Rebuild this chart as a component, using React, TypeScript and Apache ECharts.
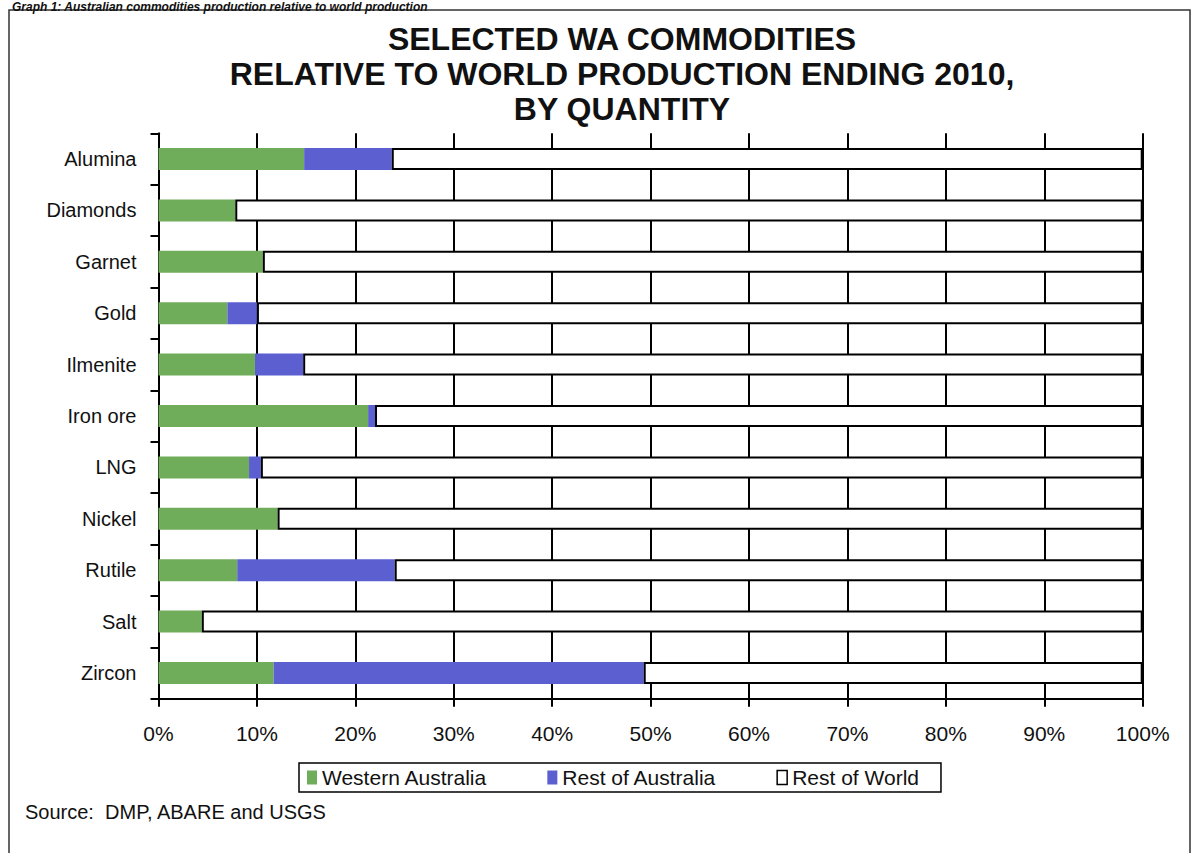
import React, { useEffect, useRef } from "react";
import * as echarts from "echarts";

const categories = ["Alumina", "Diamonds", "Garnet", "Gold", "Ilmenite", "Iron ore", "LNG", "Nickel", "Rutile", "Salt", "Zircon"];
const westernAustralia = [14.8, 7.8, 10.6, 7.0, 9.8, 21.3, 9.2, 12.1, 8.0, 4.4, 11.7];
const restOfAustralia = [8.9, 0, 0, 3.0, 4.9, 0.7, 1.2, 0, 16.0, 0, 37.6];
const restOfWorld = [76.3, 92.2, 89.4, 90.0, 85.3, 78.0, 89.6, 87.9, 76.0, 95.6, 50.7];
const seriesNames = ["Western Australia", "Rest of Australia", "Rest of World"];
const titleLines = ["SELECTED WA COMMODITIES", "RELATIVE TO WORLD PRODUCTION ENDING 2010,", "BY QUANTITY"];
const captionText = "Graph 1: Australian commodities production relative to world production";
const sourceText = "Source:  DMP, ABARE and USGS";

const FONT = "'Liberation Sans', Arial, Helvetica, sans-serif";
const GREEN = "#70ad5a";
const BLUE = "#5b5fcf";

export default function App() {
  const ref = useRef<HTMLDivElement>(null);

  useEffect(() => {
    if (!ref.current) return;
    const chart = echarts.init(ref.current, null, { renderer: "svg" });
    chart.setOption({
      animation: false,
      backgroundColor: "#ffffff",
      title: {
        text: titleLines.join("\n"),
        left: 622,
        top: 21,
        padding: 0,
        textAlign: "center",
        textStyle: {
          fontFamily: FONT,
          fontSize: 32,
          lineHeight: 35,
          fontWeight: "bold",
          color: "#111",
        },
      },
      legend: {
        left: 299,
        top: 763,
        orient: "horizontal",
        itemWidth: 10,
        itemHeight: 14,
        itemGap: 60,
        padding: [4, 22, 4, 8],
        borderColor: "#000",
        borderWidth: 1.5,
        textStyle: { fontFamily: FONT, fontSize: 21, color: "#111" },
        data: [
          { name: seriesNames[0], icon: "rect", itemStyle: { color: GREEN } },
          { name: seriesNames[1], icon: "rect", itemStyle: { color: BLUE } },
          { name: seriesNames[2], icon: "rect", itemStyle: { color: "#fff", borderColor: "#000", borderWidth: 1.5 } },
        ],
      },
      grid: {
        left: 158.5,
        right: 49.3,
        top: 133.3,
        bottom: 154.3,
        containLabel: false,
      },
      xAxis: {
        type: "value",
        min: 0,
        max: 100,
        interval: 10,
        axisLine: { show: true, lineStyle: { color: "#000", width: 2 } },
        axisTick: { show: true, length: 8, lineStyle: { color: "#000", width: 2 } },
        axisLabel: {
          formatter: "{value}%",
          margin: 24,
          fontFamily: FONT,
          fontSize: 21,
          color: "#111",
        },
        splitLine: { show: true, lineStyle: { color: "#000", width: 2 } },
      },
      yAxis: {
        type: "category",
        data: categories,
        inverse: true,
        boundaryGap: true,
        axisLine: { show: true, lineStyle: { color: "#000", width: 2 } },
        axisTick: { show: true, length: 8, lineStyle: { color: "#000", width: 2 } },
        axisLabel: {
          margin: 22,
          fontFamily: FONT,
          fontSize: 20,
          color: "#111",
        },
        splitLine: { show: false },
      },
      series: [
        {
          name: seriesNames[0],
          type: "bar",
          stack: "total",
          barWidth: 22,
          data: westernAustralia,
          itemStyle: { color: GREEN },
        },
        {
          name: seriesNames[1],
          type: "bar",
          stack: "total",
          barWidth: 22,
          data: restOfAustralia,
          itemStyle: { color: BLUE },
        },
        {
          name: seriesNames[2],
          type: "bar",
          stack: "total",
          barWidth: 22,
          data: restOfWorld,
          itemStyle: { color: "#ffffff", borderColor: "#000", borderWidth: 2 },
        },
      ],
      graphic: [
        {
          type: "rect",
          z: -10,
          shape: { x: 9, y: 10, width: 1181, height: 900 },
          style: { fill: "none", stroke: "#333", lineWidth: 1.5 },
        },
        {
          type: "text",
          x: 12,
          y: 6.5,
          style: {
            text: captionText,
            fontFamily: FONT,
            fontSize: 12,
            fontWeight: "bold",
            fontStyle: "italic",
            fill: "#111",
            verticalAlign: "middle",
            align: "left",
          },
        },
        {
          type: "text",
          x: 25,
          y: 812,
          style: {
            text: sourceText,
            fontFamily: FONT,
            fontSize: 20,
            fill: "#111",
            verticalAlign: "middle",
            align: "left",
          },
        },
      ],
    });
    return () => chart.dispose();
  }, []);

  return (
    <div
      ref={ref}
      style={{ position: "absolute", left: 0, top: 0, width: 1192, height: 853, background: "#fff" }}
    />
  );
}
